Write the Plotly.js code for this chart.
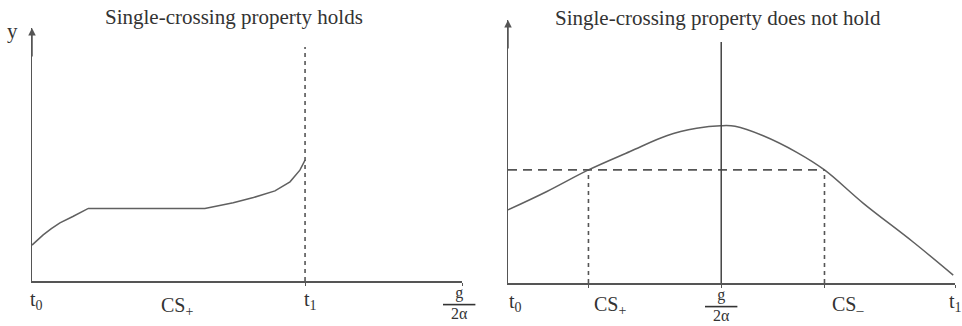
<!DOCTYPE html>
<html>
<head>
<meta charset="utf-8">
<script src="https://cdn.plot.ly/plotly-3.0.1.min.js"></script>
<style>html,body{margin:0;padding:0;background:#fff;}#chart{width:962px;height:326px;}</style>
</head>
<body>
<div id="chart"></div>
<script>
// ---- Left panel: single-crossing property holds ----
const leftTitle = "Single-crossing property holds";
const leftT = [0, 0.13, 0.26, 0.45, 0.65, 0.95, 1.31, 2.20, 3.20, 4.02, 4.68, 5.15, 5.65, 6.00, 6.23, 6.35];
const leftY = [1.42, 1.63, 1.82, 2.07, 2.30, 2.55, 2.87, 2.87, 2.87, 2.87, 3.09, 3.30, 3.56, 3.92, 4.38, 4.78];
const leftT1 = 6.35;
const leftT1Top = 9.25;
const leftTickVals = [0, 3.37, 6.35, 10];
const leftTickText = ["t<sub>0</sub>", "CS<sub>+</sub>", "t<sub>1</sub>", "g/2α"];

// ---- Right panel: single-crossing property does not hold ----
const rightTitle = "Single-crossing property does not hold";
const rightT = [0, 0.87, 1.80, 2.73, 3.55, 4.22, 4.76, 5.08, 5.71, 6.46, 7.08, 7.95, 9.07, 9.96];
const rightY = [2.78, 3.48, 4.30, 5.00, 5.60, 5.88, 5.98, 5.96, 5.60, 4.97, 4.30, 3.03, 1.55, 0.30];
const csPlus = 1.80;
const csMinus = 7.08;
const gOver2a = 4.77;
const threshold = 4.30;
const gLineTop = 9.16;
const rightTickVals = [0, 1.80, 4.77, 7.08, 10];
const rightTickText = ["t<sub>0</sub>", "CS<sub>+</sub>", "g/2α", "CS<sub>–</sub>", "t<sub>1</sub>"];

const FONT = "Liberation Serif, Times New Roman, serif";
const TXT = "#333";
const CURVE = "#606060";
const AXIS = "#555";

const traces = [
  {x: leftT, y: leftY, xaxis: "x", yaxis: "y", mode: "lines",
   line: {color: CURVE, width: 1.5}},
  {x: [leftT1, leftT1], y: [0, leftT1Top], xaxis: "x", yaxis: "y", mode: "lines",
   line: {color: AXIS, width: 1.6, dash: "4px,4px"}},
  {x: rightT, y: rightY, xaxis: "x2", yaxis: "y2", mode: "lines",
   line: {color: CURVE, width: 1.5, shape: "spline", smoothing: 1}},
  {x: [0, csMinus], y: [threshold, threshold], xaxis: "x2", yaxis: "y2", mode: "lines",
   line: {color: AXIS, width: 1.6, dash: "9px,6px"}},
  {x: [csPlus, csPlus], y: [0, threshold], xaxis: "x2", yaxis: "y2", mode: "lines",
   line: {color: AXIS, width: 1.6, dash: "4px,4px"}},
  {x: [csMinus, csMinus], y: [0, threshold], xaxis: "x2", yaxis: "y2", mode: "lines",
   line: {color: AXIS, width: 1.6, dash: "4px,4px"}},
  {x: [gOver2a, gOver2a], y: [0, gLineTop], xaxis: "x2", yaxis: "y2", mode: "lines",
   line: {color: "#444", width: 1.5}}
];

const axBase = {showgrid: false, zeroline: false, showline: true, linecolor: AXIS, linewidth: 1.5,
  showticklabels: false, fixedrange: true};

function fracText(){
  return "g<br><span style='text-decoration:overline'>&nbsp;&nbsp;2α&nbsp;&nbsp;</span>";
}

const annotations = [];
// titles
annotations.push({xref: "paper", yref: "paper", x: 234/962, y: 1 - 17/326, text: leftTitle, showarrow: false,
  font: {family: FONT, size: 21, color: TXT}, xanchor: "center", yanchor: "middle"});
annotations.push({xref: "paper", yref: "paper", x: 718/962, y: 1 - 18/326, text: rightTitle, showarrow: false,
  font: {family: FONT, size: 21, color: TXT}, xanchor: "center", yanchor: "middle"});
// y label
annotations.push({xref: "paper", yref: "paper", x: 12/962, y: 1 - 31/326, text: "y", showarrow: false,
  font: {family: FONT, size: 21, color: TXT}, xanchor: "center", yanchor: "middle"});
// axis arrows
annotations.push({xref: "x", yref: "y", x: 0, y: 10, ax: 0, ay: 30, text: "", showarrow: true,
  arrowhead: 2, arrowsize: 1, arrowwidth: 1.5, arrowcolor: AXIS, standoff: 0});
annotations.push({xref: "x2", yref: "y2", x: 0, y: 10, ax: 0, ay: 30, text: "", showarrow: true,
  arrowhead: 2, arrowsize: 1, arrowwidth: 1.5, arrowcolor: AXIS, standoff: 0});

// tick labels
const leftShift = [4, 0, 5, -3];
leftTickVals.forEach((v, i) => {
  const isFrac = leftTickText[i] === "g/2α";
  annotations.push({xref: "x", yref: "y", x: v, y: 0, xshift: leftShift[i],
    yshift: isFrac ? -1 : (i === 1 ? -11 : -5),
    text: isFrac ? fracText() : leftTickText[i], showarrow: false, yanchor: "top", xanchor: "center",
    font: {family: FONT, size: isFrac ? 16 : 20, color: TXT}});
});
const rightShift = [7, 22, 0, 24, 0];
rightTickVals.forEach((v, i) => {
  const isFrac = rightTickText[i] === "g/2α";
  annotations.push({xref: "x2", yref: "y2", x: v, y: 0, xshift: rightShift[i],
    yshift: isFrac ? -1 : ((i === 1 || i === 3) ? -8 : -5),
    text: isFrac ? fracText() : rightTickText[i], showarrow: false, yanchor: "top", xanchor: "center",
    font: {family: FONT, size: isFrac ? 16 : 20, color: TXT}});
});

const layout = {
  width: 962, height: 326,
  margin: {l: 0, r: 0, t: 0, b: 0, pad: 0},
  paper_bgcolor: "#fff", plot_bgcolor: "#fff",
  showlegend: false,
  xaxis: Object.assign({}, axBase, {domain: [32/962, 462/962], range: [0, 10], anchor: "y",
    ticks: "outside", ticklen: 3, tickcolor: AXIS, tickvals: [leftT1, 10]}),
  yaxis: Object.assign({}, axBase, {domain: [1 - 281/326, 1 - 28/326], range: [0, 10], anchor: "x", ticks: ""}),
  xaxis2: Object.assign({}, axBase, {domain: [508/962, 955/962], range: [0, 10], anchor: "y2",
    ticks: "outside", ticklen: 3, tickcolor: AXIS, tickvals: [csPlus, gOver2a, csMinus, 10]}),
  yaxis2: Object.assign({}, axBase, {domain: [1 - 283/326, 1 - 20/326], range: [0, 10], anchor: "x2", ticks: ""}),
  annotations: annotations
};

Plotly.newPlot("chart", traces, layout, {displayModeBar: false, staticPlot: true});
</script>
</body>
</html>
